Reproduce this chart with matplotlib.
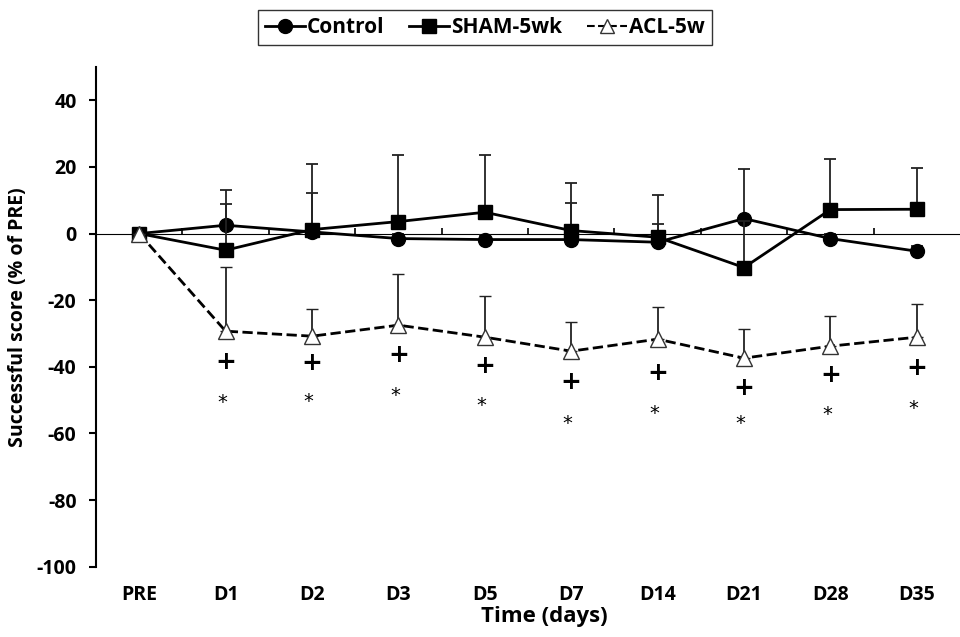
import numpy as np
import matplotlib.pyplot as plt
from matplotlib.lines import Line2D

plt.rcParams['font.family'] = ['Open Sans', 'DejaVu Sans']
plt.rcParams['font.weight'] = 'bold'
plt.rcParams['axes.unicode_minus'] = False

days = ['PRE', 'D1', 'D2', 'D3', 'D5', 'D7', 'D14', 'D21', 'D28', 'D35']

control = [0, 2.5, 0.5, -1.5, -1.8, -1.8, -2.6, 4.5, -1.5, -5.3]
control_sd = [0, 6.3, 11.6, 1.5, 1.5, 11.0, 5.6, 14.8, 1.5, 1.5]

sham = [0, -5.0, 1.2, 3.6, 6.4, 0.9, -1.1, -10.2, 7.2, 7.3]
sham_sd = [0, 18.0, 19.8, 20.0, 17.2, 14.3, 12.6, 14.0, 15.1, 12.3]

acl = [0, -29.3, -30.8, -27.5, -31.1, -35.3, -31.7, -37.4, -33.8, -31.1]
acl_sd = [0, 19.4, 8.2, 15.5, 12.4, 8.9, 9.8, 8.9, 9.0, 9.9]

# significance marks under ACL (D1..D35)
plus_y = [-38.7, -39.0, -36.6, -39.9, -44.7, -42.0, -46.4, -42.6, -40.5]
star_y = [-50.6, -50.5, -48.6, -51.7, -57.0, -54.0, -57.0, -54.4, -52.5]

x = np.arange(len(days))

fig = plt.figure(figsize=(9.6, 6.37), dpi=100)
ax = fig.add_axes([0.1, 0.1104, 0.9, 0.7844])

zeros = np.zeros(len(days))
ax.errorbar(x, control, yerr=[zeros, control_sd], color='black', lw=2,
            marker='o', ms=10, mfc='black', mec='black', ecolor='#222222',
            elinewidth=1.3, capsize=4, capthick=1.3, zorder=3)
ax.errorbar(x, sham, yerr=[zeros, sham_sd], color='black', lw=2,
            marker='s', ms=10, mfc='black', mec='black', ecolor='#222222',
            elinewidth=1.3, capsize=4, capthick=1.3, zorder=4)
ax.errorbar(x, acl, yerr=[zeros, acl_sd], color='black', lw=2, ls='--',
            marker='^', ms=11, mfc='white', mec='#333333', mew=1.0,
            ecolor='#222222', elinewidth=1.3, capsize=4, capthick=1.3,
            zorder=5)

for i in range(1, len(days)):
    ax.text(x[i], plus_y[i - 1], '+', ha='center', va='center',
            fontsize=18, fontweight='bold', family='DejaVu Sans')
    ax.text(x[i] - 0.04, star_y[i - 1], '*', ha='center', va='center',
            fontsize=14, fontweight='normal', family='DejaVu Sans')

ax.set_xlim(-0.5, 9.5)
ax.set_ylim(-100, 50)
ax.set_yticks(np.arange(-100, 41, 20))
ax.set_xticks(x)
ax.set_xticklabels(days)

for s in ['top', 'right', 'bottom']:
    ax.spines[s].set_visible(False)
ax.spines['left'].set_linewidth(1.5)
ax.tick_params(axis='y', direction='out', length=5, width=1.5, pad=9,
               labelsize=14)
ax.tick_params(axis='x', length=0, pad=13, labelsize=14)

# zero line with category-boundary ticks
zero_ax = ax.secondary_xaxis(2 / 3)
zero_ax.set_xticks(x[:-1] + 0.5)
zero_ax.set_xticklabels([])
zero_ax.tick_params(direction='out', length=4, width=1.2)
zero_ax.spines['bottom'].set_linewidth(1.5)

ax.set_ylabel('Successful score (% of PRE)', fontsize=14,
              fontweight='bold', labelpad=6)
ax.set_xlabel('Time (days)', fontsize=16, fontweight='bold', labelpad=1)
ax.xaxis.label.set_x(0.519)

handles = [
    Line2D([], [], color='black', lw=2, marker='o', ms=10, mfc='black'),
    Line2D([], [], color='black', lw=2, marker='s', ms=10, mfc='black'),
    Line2D([], [], color='black', lw=1.5, ls='--', marker='^', ms=10,
           mfc='white', mec='#333333', mew=1.0),
]
labels = ['Control', 'SHAM-5wk', 'ACL-5w']
leg = fig.legend(handles, labels, loc='center', bbox_to_anchor=(0.505, 0.957),
                 ncol=3, frameon=True, fancybox=False, edgecolor='black',
                 fontsize=15, handlelength=1.9, handletextpad=0.1,
                 columnspacing=1.2, borderpad=0.35)
leg.get_frame().set_linewidth(1.0)

fig.savefig('out.png', dpi=100)
